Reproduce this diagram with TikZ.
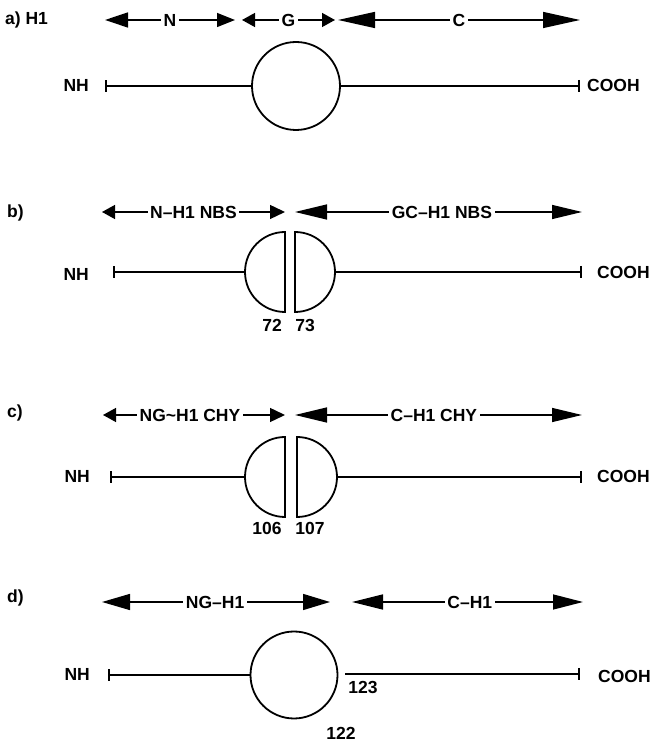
\documentclass[tikz,border=0pt]{standalone}
\usepackage{fontspec}
\setmainfont{Liberation Sans}
\usetikzlibrary{arrows.meta}
\begin{document}
\begin{tikzpicture}[x=1pt,y=1pt,
  lbl/.style={font=\bfseries\fontsize{17.5}{20}\selectfont, inner sep=0pt},
  seg/.style={lbl, fill=white, inner sep=2.5pt},
  span/.style={line width=1.4pt},
  tips/.style n args={4}{arrows={Triangle[length=#1pt,width=#2pt]-Triangle[length=#3pt,width=#4pt]}},
  chain/.style={line width=1.6pt},
  nend/.style={{Bar[width=12pt]}-},
  cend/.style={-{Bar[width=12pt]}},
  globe/.style={draw, line width=1.8pt, fill=white},
]
\useasboundingbox (0,0) rectangle (652,744);

% ---------------- a) intact H1 ----------------
\node[lbl, anchor=west] (la) at (5,724) {a)\ H1};
\coordinate (aN1) at (105,724); \coordinate (aN2) at (235,724);
\coordinate (aG1) at (242,724); \coordinate (aG2) at (335,724);
\coordinate (aC1) at (338,724); \coordinate (aC2) at (580,724);
\draw[span, tips={23}{15}{18}{14}] (aN1) -- node[seg] (tN) {N} (aN2);
\draw[span, tips={13}{14}{13}{14}] (aG1) -- node[seg] (tG) {G} (aG2);
\draw[span, tips={37}{16}{37}{16}] (aC1) -- node[seg] (tC) {C} (aC2);

\node[globe, circle, minimum size=88pt, inner sep=0pt] (gA) at (296,658) {};
\coordinate (nA) at (105,658); \coordinate (cA) at (580,658);
\draw[chain, nend] (nA) -- (gA.west);
\draw[chain, cend] (gA.east) -- (cA);
\node[lbl, anchor=east] (nhA) at (89,659) {NH};
\node[lbl, anchor=west] (coA) at (587,659) {COOH};

% ---------------- b) NBS cleavage ----------------
\node[lbl, anchor=west] (lb) at (7,531) {b)};
\coordinate (bL1) at (102,532); \coordinate (bL2) at (285,532);
\coordinate (bR1) at (295,532); \coordinate (bR2) at (582,532);
\draw[span, tips={13}{14}{15}{14}] (bL1) -- node[seg] (tbL) {N–H1 NBS} (bL2);
\draw[span, tips={32}{15}{30}{14}] (bR1) -- node[seg, pos=0.512] (tbR) {GC–H1 NBS} (bR2);

\draw[globe] (285,512) arc[start angle=90, end angle=270, radius=40] -- cycle;
\draw[globe] (295,432) arc[start angle=-90, end angle=90, radius=40] -- cycle;
\coordinate (bHL) at (245,472); \coordinate (bHR) at (335,472);
\coordinate (nB) at (113,472); \coordinate (cB) at (582,472);
\draw[chain, nend] (nB) -- (bHL);
\draw[chain, cend] (bHR) -- (cB);
\node[lbl, anchor=east] (nhB) at (89,470) {NH};
\node[lbl, anchor=west] (coB) at (597,472) {COOH};
\node[lbl] (n72) at (272,419) {72};
\node[lbl] (n73) at (305,419) {73};

% ---------------- c) chymotrypsin cleavage ----------------
\node[lbl, anchor=west] (lc) at (7,331) {c)};
\coordinate (cL1) at (103,329); \coordinate (cL2) at (285,329);
\coordinate (cR1) at (295,329); \coordinate (cR2) at (582,329);
\draw[span, tips={13}{14}{15}{14}] (cL1) -- node[seg, pos=0.478] (tcL) {NG\textasciitilde H1 CHY} (cL2);
\draw[span, tips={32}{15}{30}{14}] (cR1) -- node[seg, pos=0.484] (tcR) {C–H1 CHY} (cR2);

\draw[globe] (285,307) arc[start angle=90, end angle=270, radius=40] -- cycle;
\draw[globe] (297,227) arc[start angle=-90, end angle=90, radius=40] -- cycle;
\coordinate (cHL) at (245,267); \coordinate (cHR) at (337,267);
\coordinate (nC) at (110,267); \coordinate (cC) at (582,267);
\draw[chain, nend] (nC) -- (cHL);
\draw[chain, cend] (cHR) -- (cC);
\node[lbl, anchor=east] (nhC) at (90,268) {NH};
\node[lbl, anchor=west] (coC) at (597,268) {COOH};
\node[lbl] (n106) at (267,216) {106};
\node[lbl] (n107) at (310,216) {107};

% ---------------- d) split after the globular domain ----------------
\node[lbl, anchor=west] (ld) at (7,146) {d)};
\coordinate (dL1) at (102,142); \coordinate (dL2) at (330,142);
\coordinate (dR1) at (352,142); \coordinate (dR2) at (583,142);
\draw[span, tips={28}{16}{27}{16}] (dL1) -- node[seg, pos=0.496] (tdL) {NG–H1} (dL2);
\draw[span, tips={31}{15}{30}{15}] (dR1) -- node[seg, pos=0.51] (tdR) {C–H1} (dR2);

\node[globe, circle, minimum size=87pt, inner sep=0pt] (gD) at (294,69) {};
\coordinate (nD) at (108,69); \coordinate (dS) at (345,70); \coordinate (cD) at (580,70);
\draw[chain, nend] (nD) -- (gD.west);
\draw[chain, cend] (dS) -- (cD);
\node[lbl, anchor=east] (nhD) at (90,70) {NH};
\node[lbl, anchor=west] (coD) at (598,68) {COOH};
\node[lbl] (n123) at (363,57) {123};
\node[lbl] (n122) at (341,11) {122};
\end{tikzpicture}
\end{document}
